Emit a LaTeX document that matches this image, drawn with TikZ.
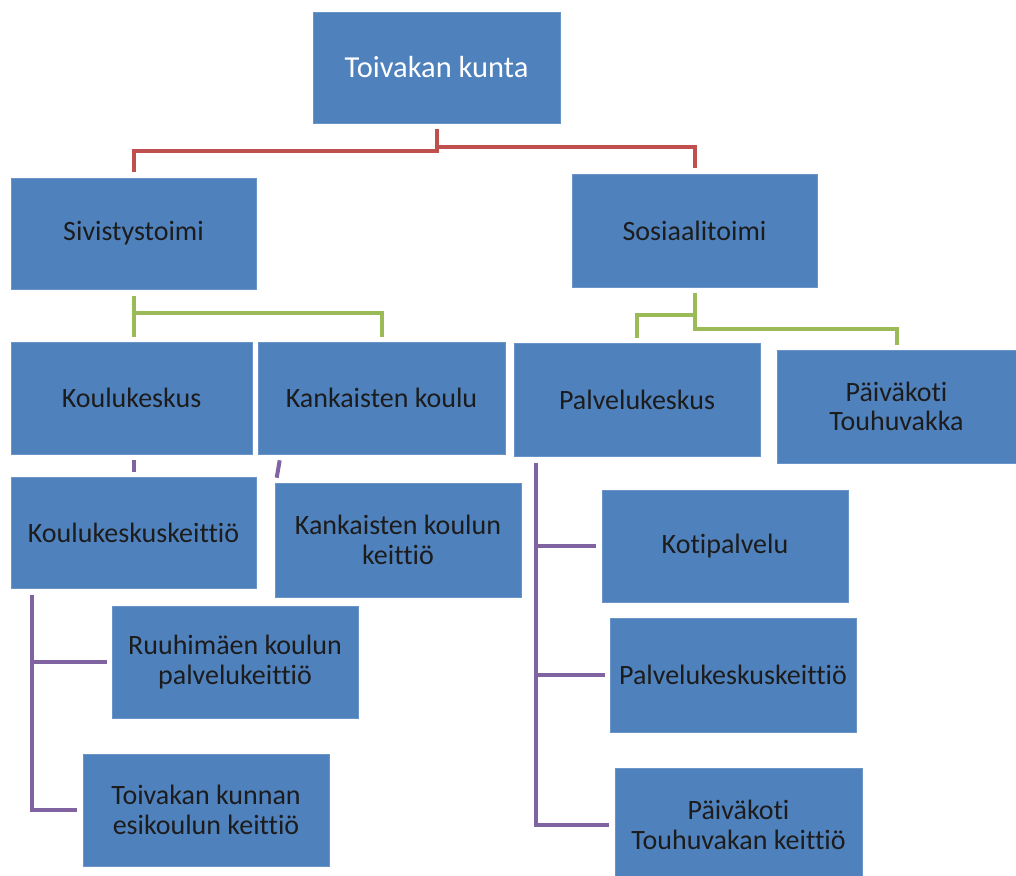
\documentclass[tikz,border=0pt]{standalone}
\usepackage{fontspec}
\setmainfont{Carlito}[Ligatures={NoCommon}]
\usetikzlibrary{calc}
\definecolor{boxblue}{HTML}{4F81BD}
\definecolor{lred}{HTML}{C0504D}
\definecolor{lgreen}{HTML}{9BBB59}
\definecolor{lpurple}{HTML}{8064A2}
\definecolor{txt}{HTML}{1C1C1C}
\begin{document}
\begin{tikzpicture}[x=1pt,y=-1pt,
  box/.style={rectangle, fill=boxblue, draw=boxblue!85!white, line width=0.6pt, inner sep=0pt,
    align=center, text=txt, font=\fontsize{28}{29.5}\selectfont},
  redc/.style={draw=lred, line width=4pt},
  greenc/.style={draw=lgreen, line width=4pt},
  purc/.style={draw=lpurple, line width=4pt}]
\clip (0,0) rectangle (1016,875);
\fill[white] (0,0) rectangle (1016,875);
% nodes
\node[box, text=white, font=\fontsize{30.5}{32}\selectfont, minimum width=247pt, minimum height=111pt] (top) at (436.5,67.5) {Toivakan kunta};
\node[box, minimum width=245pt, minimum height=111pt] (sivi) at (133.5,233.5) {Sivistystoimi};
\node[box, minimum width=245pt, minimum height=113pt] (sosi) at (694.5,230.5) {Sosiaalitoimi};
\node[box, minimum width=241pt, minimum height=112pt] (kk) at (131.5,398) {Koulukeskus};
\node[box, minimum width=247pt, minimum height=112pt] (kan) at (381.5,398) {Kankaisten koulu};
\node[box, minimum width=246pt, minimum height=113pt] (palv) at (637,399.5) {Palvelukeskus};
\node[box, minimum width=239pt, minimum height=113pt] (pk) at (896.5,406.5) {Päiväkoti\\Touhuvakka};
\node[box, minimum width=245pt, minimum height=111pt] (kkk) at (133.5,532.5) {Koulukeskuskeittiö};
\node[box, minimum width=246pt, minimum height=114pt] (kkeit) at (398,540) {Kankaisten koulun\\keittiö};
\node[box, minimum width=246pt, minimum height=112pt] (kot) at (725,546) {Kotipalvelu};
\node[box, minimum width=246pt, minimum height=112pt] (ruu) at (235,662) {Ruuhimäen koulun\\palvelukeittiö};
\node[box, minimum width=246pt, minimum height=114pt] (pkk) at (733,675) {Palvelukeskuskeittiö};
\node[box, minimum width=246pt, minimum height=112pt] (esk) at (206,810) {Toivakan kunnan\\esikoulun keittiö};
\node[box, minimum width=247pt, minimum height=114pt] (ptk) at (738.5,825) {Päiväkoti\\Touhuvakan keittiö};
% red connectors
\draw[redc] ($(top.south)+(0,6)$) -- ++(0,22) -| ($(sivi.north)+(0,-6)$);
\draw[redc] ($(top.south)+(0,6)$) -- ++(0,18) -| ($(sosi.north)+(0,-6)$);
% green connectors
\draw[greenc] ($(sivi.south)+(0,7)$) -- ($(sivi.south |- kk.north)+(0,-5)$);
\draw[greenc] ($(sivi.south)+(0,24)$) -| ($(kan.north)+(0,-5)$);
\draw[greenc] ($(sosi.south)+(0,6)$) -- ++(0,36) -| ($(pk.north)+(0,-5)$);
\draw[greenc] ($(sosi.south)+(0,28)$) -| ($(palv.north)+(0,-5)$);
% purple connectors
\draw[purc] ($(kk.south)+(2,6)$) -- ($(kk.south)+(2,18)$);
\draw[purc] ($(kan.south west)+(22,6)$) -- ($(kkeit.north west)+(2,-5)$);
\draw[purc] ($(kkk.south west)+(21,7)$) |- ($(esk.west)+(-6,0)$);
\draw[purc] ($(kkk.south west)+(21,40)$) |- ($(ruu.west)+(-5,0)$);
\draw[purc] ($(palv.south west)+(22,7)$) |- ($(ptk.west)+(-6,0)$);
\draw[purc] ($(palv.south west)+(22,40)$) |- ($(kot.west)+(-6,0)$);
\draw[purc] ($(palv.south west)+(22,150)$) |- ($(pkk.west)+(-5,0)$);
\end{tikzpicture}
\end{document}
